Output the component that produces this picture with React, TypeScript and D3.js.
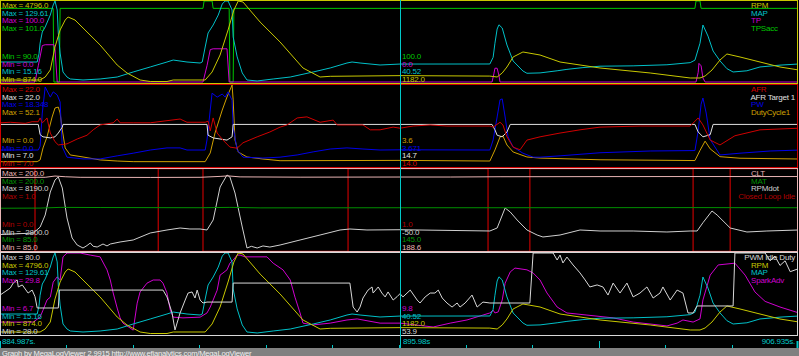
import React, { useEffect, useRef } from 'react';
import * as d3 from 'd3';

const W = 799;
const H = 356;
const T0 = 884.987;
const T1 = 906.935;
const CURSOR_T = 895.98;
const timeLabels = ['884.987s.', '895.98s', '906.935s.'];
const footerText = 'Graph by MegaLogViewer 2.9915 http://www.efianalytics.com/MegaLogViewer';

type Pt = [number, number];

const rpmData: Pt[] = [[884.99,971],[886.09,971],[886.23,1116],[886.37,1455],[886.50,2569],[886.64,3392],[886.78,3876],[886.86,4021],[887.05,3876],[887.27,3489],[887.74,2666],[888.21,1697],[888.48,1310],[888.84,971],[889.12,898],[889.58,898],[889.75,971],[890.63,971],[890.82,1358],[891.04,2181],[891.26,3392],[891.42,4360],[891.54,4796],[891.67,4748],[892.14,3779],[892.69,2811],[893.32,1552],[893.79,1116],[894.07,1150],[895.99,1182],[898.46,1160],[898.66,1116],[898.80,1310],[898.93,1600],[899.10,2085],[899.37,2327],[899.84,2181],[900.39,1842],[901.49,1552],[902.87,1310],[903.97,1068],[904.24,1068],[904.38,1165],[904.57,1455],[904.79,1939],[904.98,2230],[905.34,2085],[905.89,1842],[906.44,1600],[906.96,1455]];

const mapData: Pt[] = [[884.99,43.4],[886.01,43.4],[886.06,55],[886.09,70],[886.15,85.8],[886.23,92.9],[886.37,109.8],[886.45,124],[886.50,129.6],[886.56,117],[886.59,84.4],[886.64,56.1],[886.72,29.3],[886.83,22.2],[886.92,19.4],[887.27,18],[887.74,19.4],[888.21,22.2],[888.65,29.3],[889.12,36.4],[889.58,43.4],[889.75,46.2],[890.13,43.4],[890.49,42],[890.55,43.4],[890.63,64.6],[890.71,84.4],[890.85,95.7],[890.99,109.8],[891.10,125.4],[891.18,129.6],[891.26,129.6],[891.37,117],[891.40,78.8],[891.51,50.6],[891.65,27.9],[891.78,18],[892.06,16.6],[892.50,19.4],[892.97,22.2],[893.60,29.3],[894.07,35],[894.53,42],[894.67,43.4],[894.89,42],[895.44,39.2],[895.99,40.52],[898.46,40.6],[898.55,50],[898.60,70],[898.66,90],[898.71,96],[898.80,91.5],[898.93,67.5],[899.10,44.8],[899.37,30.7],[899.48,27.5],[899.84,28],[900.31,31],[900.58,33],[901.02,35.5],[901.49,37.5],[902.40,38],[903.33,39.5],[903.97,42.5],[904.10,46],[904.24,70],[904.32,95.7],[904.46,80],[904.60,58.9],[904.79,45],[904.98,34],[905.15,29.3],[905.53,31],[905.89,36.4],[906.44,39],[906.96,40.6]];

const tpData: Pt[] = [[884.99,0],[885.95,0],[886.04,20],[886.15,45],[886.23,46],[886.47,46],[886.50,40],[886.56,0],[890.57,0],[890.68,20],[890.77,40],[890.85,41],[891.23,41],[891.29,0],[898.52,0],[898.57,10],[898.60,17],[898.66,17],[898.71,8],[898.74,0],[904.13,0],[904.19,12],[904.21,23],[904.27,20],[904.32,5],[904.38,0],[906.96,0]];

const tpsAccData: Pt[] = [[884.99,100],[886.45,100],[886.47,90],[886.62,90],[886.64,100],[890.57,100],[890.60,101],[890.82,101],[890.85,100],[891.29,100],[891.31,90],[891.40,90],[891.42,100],[904.10,100],[904.13,101],[904.24,101],[904.27,100],[906.96,100]];

const afrData: Pt[] = [[884.99,15.0],[885.27,15.1],[885.68,14.9],[885.87,15.2],[886.04,15.2],[886.09,15.9],[886.15,15.0],[886.23,15.5],[886.28,15.9],[886.37,13.1],[886.50,11.5],[886.59,10.9],[886.83,11.1],[887.11,12.0],[887.38,12.7],[887.55,13.7],[887.74,14.6],[888.10,15.0],[888.21,15.7],[888.29,15.0],[888.65,15.0],[889.12,15.0],[889.94,15.7],[890.13,15.1],[890.63,15.1],[890.71,15.3],[890.77,13.5],[890.85,15.9],[890.96,13.1],[891.12,11.8],[891.31,10.5],[891.51,10.3],[891.67,11.3],[892.06,12.4],[892.41,13.3],[892.69,14.2],[892.88,14.6],[893.16,15.9],[893.43,16.1],[893.79,15.1],[894.15,15.5],[894.26,14.6],[894.53,14.6],[894.97,14.6],[895.17,13.7],[895.44,13.7],[895.80,14.2],[895.99,14.0],[896.35,14.4],[896.82,14.6],[897.28,14.4],[897.72,14.4],[898.46,14.4],[898.55,14.2],[898.74,15.1],[898.82,14.6],[898.93,12.4],[899.10,10.5],[899.29,10.0],[899.48,11.8],[899.84,12.4],[900.39,13.1],[900.94,13.7],[901.49,14.2],[902.59,14.4],[903.97,14.4],[904.19,15.9],[904.32,14.6],[904.52,11.8],[904.79,10.9],[905.20,12.6],[905.89,13.7],[906.96,14.0]];

const afrTargetData: Pt[] = [[884.99,14.7],[886.04,14.7],[886.09,12.8],[886.17,12.4],[886.37,12.2],[886.50,12.4],[886.59,13.1],[886.70,14.2],[886.72,14.7],[890.68,14.7],[890.71,12.7],[890.85,12.2],[891.23,11.8],[891.37,12.4],[891.40,14.7],[898.52,14.7],[898.60,13.7],[898.66,12.7],[898.80,12.4],[898.93,13.3],[899.02,14.7],[904.10,14.7],[904.19,13.3],[904.32,12.4],[904.52,12.8],[904.60,14.7],[906.96,14.7]];

const pwData: Pt[] = [[884.99,3.62],[886.04,3.62],[886.09,4.5],[886.15,12],[886.23,17.9],[886.37,15.6],[886.45,16.8],[886.56,16.1],[886.64,14.5],[886.70,4.3],[886.83,2.0],[887.27,1.6],[887.74,1.6],[888.21,2.3],[888.65,2.9],[889.12,3.62],[889.58,4.1],[889.94,4.1],[890.13,3.62],[890.63,3.62],[890.68,5.9],[890.82,16.5],[890.96,15.6],[891.10,16.3],[891.18,15.6],[891.26,16.8],[891.37,14.9],[891.40,8.8],[891.51,3.62],[891.67,2.0],[892.22,1.8],[892.69,2.0],[893.16,2.5],[893.60,3.2],[894.07,3.85],[894.53,4.1],[894.97,3.85],[895.44,3.62],[895.99,3.67],[898.46,3.62],[898.55,5.9],[898.66,11.1],[898.74,15.0],[898.80,15.2],[898.88,11.1],[898.96,6.6],[899.10,4.3],[899.37,2.9],[899.65,2.0],[899.84,2.0],[900.39,2.3],[901.49,3.0],[902.87,3.4],[904.10,3.5],[904.19,8],[904.27,14],[904.32,15.4],[904.41,12],[904.52,6],[904.79,2.5],[905.34,2.9],[906.17,3.4],[906.96,3.6]];

const dutyData: Pt[] = [[884.99,2.8],[886.01,2.8],[886.09,3.9],[886.17,11.6],[886.28,18.7],[886.42,31.5],[886.50,37.3],[886.59,37.9],[886.64,34.1],[886.70,23.2],[886.78,11.6],[886.92,7.1],[887.27,5.8],[887.74,3.9],[888.21,3.2],[888.65,2.8],[890.63,2.8],[890.77,8.4],[890.90,21.2],[891.10,36.0],[891.23,44.4],[891.37,52.1],[891.40,42.5],[891.45,16.7],[891.54,9.0],[891.78,5.8],[892.22,4.5],[892.69,3.4],[895.99,3.6],[898.46,3.2],[898.60,10.3],[898.74,18.7],[898.82,19.3],[898.93,13.5],[899.10,9.0],[899.48,5.8],[899.84,5.1],[901.49,4.0],[904.10,3.5],[904.24,10],[904.38,16],[904.52,11],[904.79,6],[905.34,5],[906.96,4.5]];

const cltData: Pt[] = [[884.99,188.0],[886.23,188.2],[886.50,190.0],[886.78,189.0],[887.19,188.2],[889.12,188.0],[890.49,188.2],[891.04,189.5],[891.26,190.2],[891.59,188.8],[893.24,188.4],[895.99,188.6],[897.37,188.6],[898.74,189.0],[901.49,189.2],[904.24,189.3],[906.96,189.3]];

const matData: Pt[] = [[884.99,144.3],[886.09,144.5],[886.64,145.5],[887.74,145.3],[890.49,145.0],[891.31,145.5],[892.14,144.8],[895.99,145.0],[898.74,145.0],[904.24,145.2],[906.96,145.0]];

const rpmDotData: Pt[] = [[884.99,-700],[885.90,-500],[886.09,300],[886.23,1950],[886.37,5071],[886.50,6699],[886.59,7106],[886.70,5614],[886.83,1542],[886.97,-1172],[887.11,-2122],[887.27,-2529],[887.38,-2200],[887.47,-1850],[887.55,-2300],[887.66,-2393],[887.82,-1986],[887.93,-2250],[888.02,-1986],[888.29,-1714],[888.65,-1443],[889.12,-493],[889.58,-86],[889.94,185],[890.21,50],[890.49,50],[890.68,-86],[890.85,1271],[891.04,5749],[891.23,7378],[891.31,7106],[891.45,4935],[891.65,321],[891.78,-2529],[891.90,-2300],[892.06,-2529],[892.22,-2250],[892.41,-2400],[892.69,-2122],[893.24,-1443],[893.79,-765],[894.34,-86],[894.61,50],[895.08,-86],[895.99,-50],[898.46,-222],[898.66,185],[898.88,2899],[899.02,2357],[899.21,1271],[899.48,-86],[899.76,-765],[899.92,-1036],[900.39,-765],[900.94,-86],[901.49,-222],[902.40,-222],[903.33,-357],[903.97,-222],[904.16,-222],[904.32,900],[904.57,2492],[904.71,1950],[905.07,185],[905.53,-357],[906.08,-222],[906.96,-86]];

const closedLoopIdleData: Pt[] = [[884.99,1],[885.95,0],[889.34,1],[890.57,0],[894.56,1],[898.41,0],[899.56,1],[904.05,0],[905.07,1],[906.96,1]];

const pwmIdleData: Pt[] = [[884.99,53],[885.07,54.3],[885.27,57.5],[885.35,60.7],[885.46,62.7],[885.49,58.2],[885.60,59.5],[885.68,56.9],[885.76,54.3],[885.87,56.2],[885.95,52],[886.01,44.7],[886.59,44.7],[886.62,56.2],[889.47,56.2],[889.58,51.8],[889.72,41.5],[889.80,30.6],[889.94,41.5],[890.08,49.8],[890.16,54.3],[890.27,55.0],[890.35,51.1],[890.41,56.2],[890.49,49.8],[890.57,47.9],[890.68,48.5],[891.37,48.5],[891.40,60.7],[894.61,60.7],[894.70,45.3],[894.81,42.1],[894.89,45.3],[894.97,51.1],[895.11,56.2],[895.22,58.2],[895.25,54.3],[895.39,58.2],[895.49,54.3],[895.58,51.8],[895.66,55.0],[895.80,49.8],[895.91,52],[895.99,53.9],[896.07,51.8],[896.27,56.2],[896.46,49.8],[896.54,47.9],[896.68,51.8],[896.82,54.3],[896.95,54.3],[897.04,56.2],[897.15,51.1],[897.28,47.9],[897.42,45.3],[897.56,47.9],[897.64,45.3],[897.78,47.9],[897.97,53.0],[898.11,45.3],[898.27,48.5],[898.46,47.9],[899.56,47.9],[899.65,80],[900.20,80],[900.31,75.5],[900.39,78.7],[900.47,73.6],[900.58,77.4],[900.75,72.3],[900.94,67.2],[901.08,62.7],[901.21,58.2],[901.41,59.5],[901.57,58.2],[901.71,53.0],[901.85,60.7],[902.04,54.3],[902.23,60.7],[902.40,51.8],[902.59,54.3],[902.78,58.2],[902.95,51.1],[903.14,54.3],[903.22,58.2],[903.42,49.8],[903.61,56.2],[903.77,54.3],[903.91,41.5],[904.05,41.5],[904.16,46.0],[905.15,46.0],[905.20,80],[906.03,80],[906.17,75],[906.30,78],[906.44,72],[906.58,75],[906.72,68],[906.96,70]];

const sparkAdvData: Pt[] = [[884.99,10.1],[885.90,10.1],[886.09,11.5],[886.17,13.5],[886.28,16.4],[886.37,17.2],[886.45,21.5],[886.56,23.0],[886.64,22.1],[886.72,28.7],[886.83,29.8],[887.19,29.8],[887.47,29.2],[887.74,28.7],[887.93,25.0],[888.02,22.1],[888.10,18.4],[888.21,14.1],[888.29,11.3],[888.37,9.8],[888.65,7.8],[888.76,15.5],[888.84,18.7],[889.03,21.2],[889.20,22.1],[889.39,22.1],[889.47,21.2],[889.58,18.4],[889.67,13.5],[889.75,11.5],[890.02,11.3],[890.49,11.5],[890.68,12.7],[890.77,14.4],[890.85,16.4],[890.96,19.2],[891.04,23.5],[891.12,24.1],[891.23,25.0],[891.31,26.9],[891.40,27.8],[891.51,29.2],[891.59,29.2],[891.73,28.7],[892.33,28.7],[892.50,26.9],[892.77,25.0],[892.97,22.1],[893.10,17.2],[893.24,12.7],[893.32,9.8],[893.60,9.3],[894.07,9.8],[894.53,10.7],[894.81,11.0],[895.44,9.8],[895.99,9.8],[896.90,8.7],[897.37,9.8],[897.83,10.7],[898.27,12.1],[898.46,12.7],[898.55,13.5],[898.60,12.7],[898.69,13.0],[898.80,16.4],[898.88,21.2],[899.02,24.4],[899.15,25.5],[899.48,25.0],[899.65,24.1],[899.84,22.1],[900.03,18.4],[900.31,14.4],[900.58,12.7],[901.13,12.1],[901.85,11.3],[902.40,10.1],[903.33,9.0],[903.61,9.8],[903.77,10.7],[904.05,10.1],[904.24,11.0],[904.32,16.4],[904.52,23.5],[904.74,26.4],[905.20,26.9],[905.48,23.5],[905.75,18.7],[906.03,16.0],[906.44,14.4],[906.96,12.7]];

// Panel definitions (series order = legend order)
const p1Names = ['RPM', 'MAP', 'TP', 'TPSacc'];
const p1Min = [874, 15.16, 0, 90];
const p1Max = [4796, 129.61, 100, 101];
const p1MinLabels = ['874.0', '15.16', '0.0', '90.0'];
const p1MaxLabels = ['4796.0', '129.61', '100.0', '101.0'];
const p1Cursor = ['1182.0', '40.52', '0.0', '100.0'];

const p2Names = ['AFR', 'AFR Target 1', 'PW', 'DutyCycle1'];
const p2Min = [7, 7, 0, 0];
const p2Max = [22, 22, 18.348, 52.1];
const p2MinLabels = ['7.0', '7.0', '0.0', '0.0'];
const p2MaxLabels = ['22.0', '22.0', '18.348', '52.1'];
const p2Cursor = ['14.0', '14.7', '3.671', '3.6'];

const p3Names = ['CLT', 'MAT', 'RPMdot', 'Closed Loop Idle'];
const p3Min = [85, 85, -2800, 0];
const p3Max = [200, 200, 8190, 1];
const p3MinLabels = ['85.0', '85.0', '-2800.0', '0.0'];
const p3MaxLabels = ['200.0', '200.0', '8190.0', '1.0'];
const p3Cursor = ['188.6', '145.0', '-50.0', '1.0'];

const p4Names = ['PWM Idle Duty', 'RPM', 'MAP', 'SparkAdv'];
const p4Min = [28, 874, 15.16, 6.7];
const p4Max = [80, 4796, 129.61, 29.8];
const p4MinLabels = ['28.0', '874.0', '15.16', '6.7'];
const p4MaxLabels = ['80.0', '4796.0', '129.61', '29.8'];
const p4Cursor = ['53.9', '1182.0', '40.52', '9.8'];

const COLORS: Record<string, string> = {
  RPM: '#c8c800',
  MAP: '#00c0c8',
  TP: '#d000d0',
  TPSacc: '#00c800',
  AFR: '#d00000',
  'AFR Target 1': '#e0e0e0',
  PW: '#0000e8',
  DutyCycle1: '#d0a000',
  CLT: '#e8b4b4',
  MAT: '#009000',
  RPMdot: '#d0d0d0',
  'Closed Loop Idle': '#b00000',
  'PWM Idle Duty': '#d8d8d8',
  SparkAdv: '#d000d0',
};

const DATA: Record<string, Pt[]> = {
  RPM: rpmData,
  MAP: mapData,
  TP: tpData,
  TPSacc: tpsAccData,
  AFR: afrData,
  'AFR Target 1': afrTargetData,
  PW: pwData,
  DutyCycle1: dutyData,
  CLT: cltData,
  MAT: matData,
  RPMdot: rpmDotData,
  'Closed Loop Idle': closedLoopIdleData,
  'PWM Idle Duty': pwmIdleData,
  SparkAdv: sparkAdvData,
};

const panels = [
  { names: p1Names, min: p1Min, max: p1Max, minL: p1MinLabels, maxL: p1MaxLabels, cur: p1Cursor },
  { names: p2Names, min: p2Min, max: p2Max, minL: p2MinLabels, maxL: p2MaxLabels, cur: p2Cursor },
  { names: p3Names, min: p3Min, max: p3Max, minL: p3MinLabels, maxL: p3MaxLabels, cur: p3Cursor },
  { names: p4Names, min: p4Min, max: p4Max, minL: p4MinLabels, maxL: p4MaxLabels, cur: p4Cursor },
];

const FONT = "'Liberation Sans', Arial, sans-serif";
const PANEL_H = 84;
const PLOT_R = 797;

export default function App() {
  const ref = useRef<SVGSVGElement | null>(null);

  useEffect(() => {
    const svg = d3.select(ref.current);
    svg.selectAll('*').remove();
    svg.append('rect').attr('x', 0).attr('y', 0).attr('width', W).attr('height', H).attr('fill', '#000');

    const x = d3.scaleLinear().domain([T0, T1]).range([0, 798]);

    const addText = (g: any, tx: number, ty: number, s: string, color: string, size = 8, anchor = 'start') =>
      g.append('text')
        .attr('x', tx).attr('y', ty)
        .attr('fill', color)
        .attr('font-family', FONT)
        .attr('font-size', size)
        .attr('letter-spacing', -0.2)
        .attr('text-anchor', anchor)
        .text(s);

    panels.forEach((p, pi) => {
      const top = pi * PANEL_H;
      const g = svg.append('g');
      const clipId = `clip${pi}`;
      g.append('clipPath').attr('id', clipId)
        .append('rect').attr('x', 0).attr('y', top).attr('width', PLOT_R + 1).attr('height', 84);

      const traces = g.append('g').attr('clip-path', `url(#${clipId})`);
      for (let si = p.names.length - 1; si >= 0; si--) {
        const name = p.names[si];
        const isStep = name === 'Closed Loop Idle';
        const y = d3.scaleLinear()
          .domain([p.min[si], p.max[si]])
          .range(isStep ? [top + 83.5, top + 0.5] : [top + 82, top + 1]);
        const line = d3.line<Pt>()
          .x((d) => x(d[0]))
          .y((d) => y(d[1]))
          .curve(isStep ? d3.curveStepAfter : d3.curveLinear);
        traces.append('path')
          .attr('d', line(DATA[name]) as string)
          .attr('fill', 'none')
          .attr('stroke', COLORS[name])
          .attr('stroke-width', isStep ? 1.3 : 1)
          .attr('stroke-linejoin', 'round');
      }

      // border in first series color
      g.append('rect')
        .attr('x', 0.5).attr('y', top + 0.5)
        .attr('width', PLOT_R).attr('height', 83)
        .attr('fill', 'none')
        .attr('stroke', COLORS[p.names[0]])
        .attr('stroke-width', 1);

      // labels
      p.names.forEach((name, si) => {
        const c = COLORS[name];
        const maxY = top + 8 + si * 7.6;
        const minY = top + 82 - si * 7.6;
        addText(g, 2, maxY, `Max = ${p.maxL[si]}`, c);
        addText(g, 2, minY, `Min = ${p.minL[si]}`, c);
        addText(g, 402, minY, p.cur[si], c);
        const t = addText(g, 751, maxY, name, c);
        const w = (t.node() as SVGTextElement).getComputedTextLength();
        if (751 + w > 795) t.attr('x', 795 - w);
      });
    });

    // time axis strip
    const axisG = svg.append('g');
    const ticks = d3.range(13).map((i) => T0 + (i * (T1 - T0)) / 12);
    const tall = new Set([0, 9, 12]);
    ticks.forEach((tv, i) => {
      const px = Math.round(x(tv)) + 0.5;
      axisG.append('line')
        .attr('x1', Math.min(px, 797.5)).attr('x2', Math.min(px, 797.5))
        .attr('y1', tall.has(i) ? 341 : 345).attr('y2', 348)
        .attr('stroke', '#00c8c8').attr('stroke-width', i === 12 ? 2 : 1);
    });
    addText(axisG, 2, 344, timeLabels[0], '#00c8c8');
    addText(axisG, 403, 344, timeLabels[1], '#00c8c8');
    addText(axisG, 795, 344, timeLabels[2], '#00c8c8', 8, 'end');

    // cursor line
    const cx = Math.round(x(CURSOR_T)) + 0.5;
    svg.append('line')
      .attr('x1', cx).attr('x2', cx).attr('y1', 0).attr('y2', 348)
      .attr('stroke', '#00c8c8').attr('stroke-width', 1);

    // footer
    svg.append('rect').attr('x', 0).attr('y', 348).attr('width', W).attr('height', 8).attr('fill', '#808080');
    addText(svg, 2, 355.5, footerText, '#f0f0f0', 7.6);
  }, []);

  return (
    <svg
      ref={ref}
      width={W}
      height={H}
      style={{ position: 'absolute', left: 0, top: 0, display: 'block' }}
    />
  );
}
